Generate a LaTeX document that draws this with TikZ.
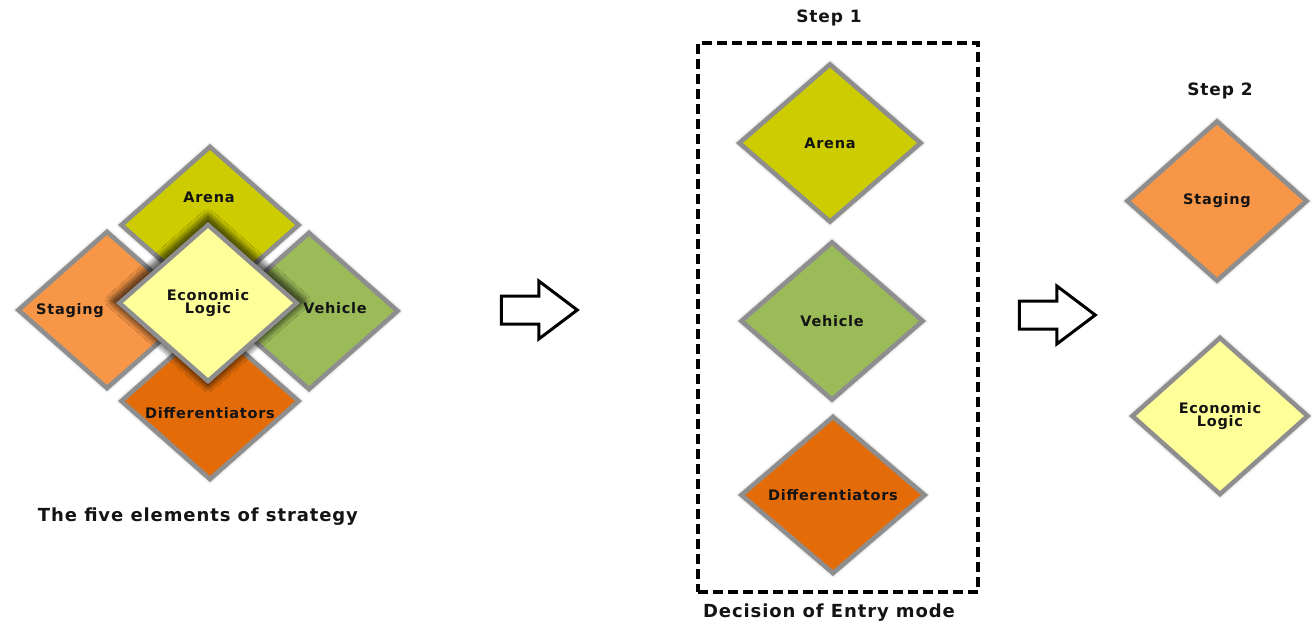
\documentclass[tikz,border=0pt]{standalone}
\usepackage{fontspec}
\setmainfont{DejaVu Sans}[LetterSpace=5]
\usetikzlibrary{shapes.geometric,shapes.arrows,shadows.blur}
\definecolor{arenaC}{HTML}{CCCC00}
\definecolor{stagingC}{HTML}{F79646}
\definecolor{vehicleC}{HTML}{9BBB59}
\definecolor{diffC}{HTML}{E36C09}
\definecolor{econC}{HTML}{FFFF99}
\definecolor{rimC}{HTML}{8E8E8E}
\definecolor{inkC}{HTML}{141414}
\begin{document}
\begin{tikzpicture}[x=1pt,y=-1pt,
  gem/.style={diamond, draw=rimC, line width=4.5pt, minimum width=179pt, minimum height=158pt,
    inner sep=0pt, font=\fontsize{14.5}{15}\selectfont\bfseries, text=inkC, align=center,
    blur shadow={shadow xshift=0pt, shadow yshift=0pt, shadow blur radius=3pt, shadow opacity=25, shadow scale=1.03, shadow blur steps=20}},
  coregem/.style={gem, blur shadow={shadow xshift=0pt, shadow yshift=2pt, shadow blur radius=7pt, shadow opacity=55, shadow scale=1.07, shadow blur steps=30}},
  lbl/.style={font=\fontsize{14.5}{15}\selectfont\bfseries, text=inkC, align=center, inner sep=0pt},
  captiontext/.style={font=\fontsize{18}{19}\selectfont\bfseries, text=inkC, inner sep=0pt},
  steplbl/.style={font=\fontsize{17}{18}\selectfont\bfseries, text=inkC, inner sep=0pt},
  blockarrow/.style={single arrow, draw=black, line width=3pt, fill=white, minimum height=76pt,
    single arrow head extend=15pt, single arrow tip angle=74, single arrow head indent=0pt,
    inner xsep=0pt, inner ysep=12.5pt},
  dashbox/.style={draw=black, line width=3.5pt, dash pattern=on 10pt off 5pt, inner sep=0pt}
]
\useasboundingbox (0,0) rectangle (1312,624);

% ---- left cluster: the five elements ----
\node[gem, fill=arenaC]   (arena)   at (210,225) {};
\node[gem, fill=stagingC] (staging) at (107,310) {};
\node[gem, fill=vehicleC] (vehicle) at (309,311) {};
\node[gem, fill=diffC]    (diff)    at (210,401) {};
\node[coregem, fill=econC] (econ)   at (208,303) {Economic\\[-2pt]Logic};
\node[lbl] (arenaT)   at (209,197) {Arena};
\node[lbl] (stagingT) at (70,311)  {Staging};
\node[lbl] (vehicleT) at (335,308) {Vehicle};
\node[lbl] (diffT)    at (210,413) {Differentiators};
\node[captiontext] (title1)   at (198,517) {The five elements of strategy};

% ---- arrows ----
\node[blockarrow] (arrow1) at (530,310) {};
\node[blockarrow] (arrow2) at (1048,315) {};

% ---- step 1 ----
\node[steplbl] (step1) at (829,18) {Step 1};
\node[dashbox, minimum width=280pt, minimum height=549pt] (box1) at (838,317.5) {};
\node[gem, fill=arenaC, minimum width=183pt, minimum height=159pt]   (arena1)   at (830,143) {Arena};
\node[gem, fill=vehicleC, minimum width=183pt, minimum height=159pt] (vehicle1) at (832,321) {Vehicle};
\node[gem, fill=diffC, minimum width=185pt, minimum height=158pt]    (diff1)    at (833,495) {Differentiators};
\node[captiontext] (title2) at (829,613) {Decision of Entry mode};

% ---- step 2 ----
\node[steplbl] (step2) at (1220,91) {Step 2};
\node[gem, fill=stagingC, minimum width=181pt, minimum height=161pt] (staging2) at (1217,201) {Staging};
\node[gem, fill=econC, minimum width=177pt, minimum height=158pt]    (econ2)    at (1220,416) {Economic\\[-2pt]Logic};
\end{tikzpicture}
\end{document}
